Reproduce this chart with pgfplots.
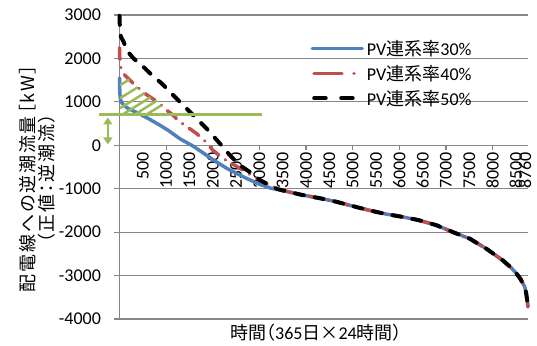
\documentclass[border=0pt]{standalone}
\usepackage{fontspec}
\setmainfont{Carlito}
\newfontfamily\cjk{Noto Sans CJK JP}[RawFeature=+palt]
\usepackage{pgfplots}
\pgfplotsset{compat=1.18}
\usetikzlibrary{arrows.meta}
\definecolor{xblue}{RGB}{79,129,189}
\definecolor{xred}{RGB}{192,80,77}
\definecolor{xgreen}{RGB}{155,187,89}
\definecolor{xgrid}{RGB}{134,134,134}
\newcommand\fs{\fontsize{18bp}{21bp}\selectfont}
\pgfplotsset{
  blueleg/.style={legend image code/.code={\draw[##1] (0bp,0bp) -- (50bp,0bp);}},
  redleg/.style={legend image code/.code={\draw[##1, dash pattern=on 28bp off 12bp on 0.1bp off 20bp] (1.75bp,0bp) -- (42bp,0bp);}},
  blackleg/.style={legend image code/.code={\draw[##1, dash pattern=on 11.5bp off 15.5bp] (2bp,0bp) -- (42bp,0bp);}},
}
\begin{document}
\begin{tikzpicture}
\begin{axis}[
  scale only axis, width=408.5bp, height=304bp,
  xmin=0, xmax=8760, ymin=-4000, ymax=3000,
  axis x line=middle, axis y line=left,
  hide obscured x ticks=false, hide obscured y ticks=false,
  axis line style={xgrid, line width=1.2bp, -},
  ymajorgrids, grid style={xgrid, line width=1.2bp},
  tick align=outside, major tick length=5bp,
  tick style={xgrid, line width=1.2bp},
  ytick={-4000,-3000,-2000,-1000,0,1000,2000,3000},
  yticklabels={-4000,-3000,-2000,-1000,0,1000,2000,3000},
  yticklabel style={font=\fs, xshift=-10bp},
  xtick={500,1000,1500,2000,2500,3000,3500,4000,4500,5000,5500,6000,6500,7000,7500,8000,8500,8760},
  xticklabels={500,1000,1500,2000,2500,3000,3500,4000,4500,5000,5500,6000,6500,7000,7500,8000,8500,\raisebox{-3bp}[0pt][0pt]{8760}},
  xtick style={draw=none},
  xticklabel style={rotate=90, anchor=east, font=\fs, inner sep=2bp},
  extra x ticks={1000,2000,3000,4000,5000,6000,7000,8000},
  extra x tick labels={},
  extra x tick style={grid=none, xtick style={draw=xgrid, line width=1.2bp}},
  clip=false,
  xlabel={{\cjk 時間（}365{\cjk 日×}24{\cjk 時間）}},
  xlabel style={at={(axis description cs:0.481,-0.046)}, anchor=center, font=\fs},
  ylabel={{\cjk\addfontfeature{LetterSpace=10} 配電線への逆潮流量［kW］}\\{\cjk\addfontfeature{LetterSpace=10} （正値：逆潮流）}},
  ylabel style={at={(axis description cs:-0.2005,0.462)}, anchor=center, align=center, font=\fontsize{18bp}{19bp}\selectfont},
  legend style={at={(0.467,0.924)}, anchor=north west, draw=none, fill=none, font=\fs, inner sep=0pt,
    row sep=4.2bp, nodes={inner ysep=2bp, inner xsep=3bp}},
  legend cell align=left,
]
\addplot[xblue, line width=3.5bp, line join=round, line cap=round, blueleg]
coordinates {(0,1550)(3,1350)(8,1200)(15,1100)(30,1020)(60,960)(120,900)(180,850)(300,790)(400,740)(610,620)(870,460)(1050,340)(1296,150)(1580,-20)(1800,-180)(2003,-330)(2300,-530)(2700,-750)(3010,-900)(3250,-990)(3500,-1040)
(3900,-1140)(4300,-1220)(4650,-1300)(5000,-1400)(5365,-1500)(5700,-1580)(6075,-1650)(6400,-1720)(6795,-1840)(7150,-2000)(7510,-2150)(7865,-2380)(8100,-2560)(8220,-2650)(8400,-2820)(8510,-2950)(8600,-3080)(8690,-3260)(8720,-3400)(8740,-3550)(8752,-3650)(8758,-3720)};
\addlegendentry{PV{\cjk 連系率}30\%}
\addplot[xred, line width=3.5bp, line join=round, line cap=round, dash pattern=on 12bp off 8bp on 0.1bp off 8bp, redleg]
coordinates {(0,2250)(3,2100)(8,1950)(20,1820)(50,1720)(118,1610)(290,1430)(546,1190)(830,990)(1011,810)(1118,720)(1296,540)(1654,270)(1850,80)(2003,-115)(2217,-300)(2581,-530)(2939,-760)(3289,-950)(3500,-1040)
(3900,-1140)(4300,-1220)(4650,-1300)(5000,-1400)(5365,-1500)(5700,-1580)(6075,-1650)(6400,-1720)(6795,-1840)(7150,-2000)(7510,-2150)(7865,-2380)(8100,-2560)(8220,-2650)(8400,-2820)(8510,-2950)(8600,-3080)(8690,-3260)(8720,-3400)(8740,-3550)(8752,-3650)(8758,-3720)};
\addlegendentry{PV{\cjk 連系率}40\%}
\addplot[black, line width=4bp, line join=round, line cap=round, dash pattern=on 9bp off 11bp, blackleg]
coordinates {(0,2980)(5,2800)(12,2650)(30,2500)(90,2380)(160,2180)(300,2000)(480,1840)(700,1610)(910,1420)(1080,1230)(1510,770)(1868,385)(2153,40)(2367,-230)(2581,-460)(2795,-615)(3010,-800)(3224,-930)(3400,-1010)(3500,-1040)
(3900,-1140)(4300,-1220)(4650,-1300)(5000,-1400)(5365,-1500)(5700,-1580)(6075,-1650)(6400,-1720)(6795,-1840)(7150,-2000)(7510,-2150)(7865,-2380)(8100,-2560)(8220,-2650)(8400,-2820)(8510,-2950)(8600,-3080)(8690,-3260)(8720,-3400)(8740,-3550)(8752,-3650)(8758,-3720)};
\addlegendentry{PV{\cjk 連系率}50\%}
% annotation: threshold line, arrow and hatching
\addplot[xgreen, line width=3bp, forget plot] coordinates {(-430,705)(3050,705)};
\addplot[xgreen, line width=2bp, forget plot, arrows={Triangle[width=9bp,length=7bp]-Triangle[width=9bp,length=7bp]}] coordinates {(-250,640)(-250,20)};
\addplot[xgreen, line width=2.5bp, forget plot] coordinates {(11,1382)(210,1515)};
\addplot[xgreen, line width=2.5bp, forget plot] coordinates {(11,1083)(390,1336)};
\addplot[xgreen, line width=2.5bp, forget plot] coordinates {(11,853)(535,1200)};
\addplot[xgreen, line width=2.5bp, forget plot] coordinates {(75,714)(665,1107)};
\addplot[xgreen, line width=2.5bp, forget plot] coordinates {(332,714)(790,1019)};
\addplot[xgreen, line width=2.5bp, forget plot] coordinates {(589,714)(900,921)};
\end{axis}
\pgfresetboundingbox
\path[use as bounding box] ([xshift=-119.5bp,yshift=-27bp]current axis.south west) rectangle ++(537bp,346bp);
\end{tikzpicture}
\end{document}
